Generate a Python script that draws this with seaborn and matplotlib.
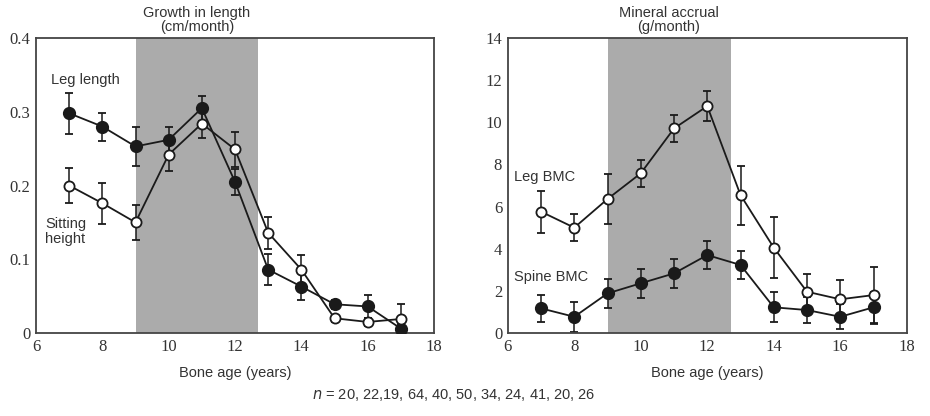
import numpy as np
import pandas as pd
import seaborn as sns
import matplotlib.pyplot as plt
import matplotlib.transforms as mtrans

sns.set_style("white")
plt.rcParams['font.family'] = ['Liberation Sans', 'DejaVu Sans']

age = [7, 8, 9, 10, 11, 12, 13, 14, 15, 16, 17]

# growth in length (cm/month)
leg_len = [0.298, 0.280, 0.253, 0.262, 0.305, 0.205, 0.086, 0.063, 0.039, 0.036, 0.006]
leg_len_err = [0.028, 0.019, 0.027, 0.018, 0.017, 0.018, 0.021, 0.018, 0.006, 0.015, 0.006]
sit_ht = [0.200, 0.176, 0.150, 0.242, 0.284, 0.249, 0.136, 0.086, 0.020, 0.015, 0.019]
sit_ht_err = [0.024, 0.028, 0.024, 0.022, 0.020, 0.024, 0.022, 0.020, 0.005, 0.005, 0.020]

# mineral accrual (g/month)
leg_bmc = [5.76, 5.00, 6.36, 7.58, 9.71, 10.77, 6.55, 4.05, 1.96, 1.60, 1.80]
leg_bmc_err = [1.00, 0.65, 1.20, 0.65, 0.65, 0.70, 1.40, 1.45, 0.85, 0.90, 1.35]
spine_bmc = [1.17, 0.77, 1.88, 2.36, 2.83, 3.70, 3.23, 1.22, 1.09, 0.77, 1.22]
spine_bmc_err = [0.65, 0.70, 0.67, 0.68, 0.68, 0.65, 0.67, 0.72, 0.60, 0.60, 0.75]

n_text = "20, 22,19, 64, 40, 50, 34, 24, 41, 20, 26"
band = (9.0, 12.7)

growth = pd.DataFrame({'age': age, 'leg': leg_len, 'sit': sit_ht})
mineral = pd.DataFrame({'age': age, 'leg': leg_bmc, 'spine': spine_bmc})

fig = plt.figure(figsize=(9.3, 4.16), dpi=100)
ax1 = fig.add_axes([0.0387, 0.1995, 0.428, 0.709])
ax2 = fig.add_axes([0.546, 0.1995, 0.429, 0.709])

ink = '#1a1a1a'
txt = '#333333'
fs = 10.5


def draw_series(ax, df, col, err, filled):
    ax.errorbar(df['age'], df[col], yerr=err, fmt='none', ecolor=ink,
                elinewidth=1.1, capsize=3.2, capthick=1.3, zorder=2)
    sns.lineplot(data=df, x='age', y=col, ax=ax, color=ink, linewidth=1.3,
                 marker='o', markersize=8.2 if filled else 7.3,
                 markerfacecolor=ink if filled else 'white',
                 markeredgecolor=ink, markeredgewidth=1.3, zorder=3)


def style_axes(ax, ymax, yticks, ylabels, title):
    ax.axvspan(band[0], band[1], color='#ababab', lw=0, zorder=0)
    ax.set_xlim(6, 18)
    ax.set_ylim(0, ymax)
    ax.set_xticks([6, 8, 10, 12, 14, 16, 18])
    ax.set_yticks(yticks)
    ax.set_yticklabels(ylabels)
    ax.tick_params(direction='in', length=6, width=1.2, colors=ink,
                   labelsize=12, pad=4)
    for lab in ax.get_xticklabels() + ax.get_yticklabels():
        lab.set_family(['Liberation Serif', 'DejaVu Serif'])
        lab.set_color(txt)
    for s in ax.spines.values():
        s.set_color('#444444')
        s.set_linewidth(1.3)
    ax.set_xlabel('Bone age (years)', fontsize=fs, color=txt, labelpad=8)
    ax.set_ylabel('')
    trans = mtrans.blended_transform_factory(ax.transData, ax.transAxes)
    ax.text(10.85, 1.015, title, transform=trans, ha='center', va='bottom',
            fontsize=fs, color=txt, linespacing=1.0)


draw_series(ax1, growth, 'leg', leg_len_err, True)
draw_series(ax1, growth, 'sit', sit_ht_err, False)
style_axes(ax1, 0.4, [0, 0.1, 0.2, 0.3, 0.4], ['0', '0.1', '0.2', '0.3', '0.4'],
           'Growth in length\n(cm/month)')
ax1.text(6.45, 0.343, 'Leg length', fontsize=fs, color=txt, va='center')
ax1.text(6.28, 0.138, 'Sitting\nheight', fontsize=fs, color=txt, va='center',
         ha='left', multialignment='left', linespacing=1.05)

draw_series(ax2, mineral, 'leg', leg_bmc_err, False)
draw_series(ax2, mineral, 'spine', spine_bmc_err, True)
style_axes(ax2, 14, list(range(0, 15, 2)), [str(v) for v in range(0, 15, 2)],
           'Mineral accrual\n(g/month)')
ax2.text(6.2, 7.4, 'Leg BMC', fontsize=fs, color=txt, va='center')
ax2.text(6.2, 2.66, 'Spine BMC', fontsize=fs, color=txt, va='center')

fig.text(0.488, 0.05, r'$n$ = ' + n_text, ha='center', va='center',
         fontsize=fs, color=txt)

fig.savefig('out.png', dpi=100, facecolor='white')
